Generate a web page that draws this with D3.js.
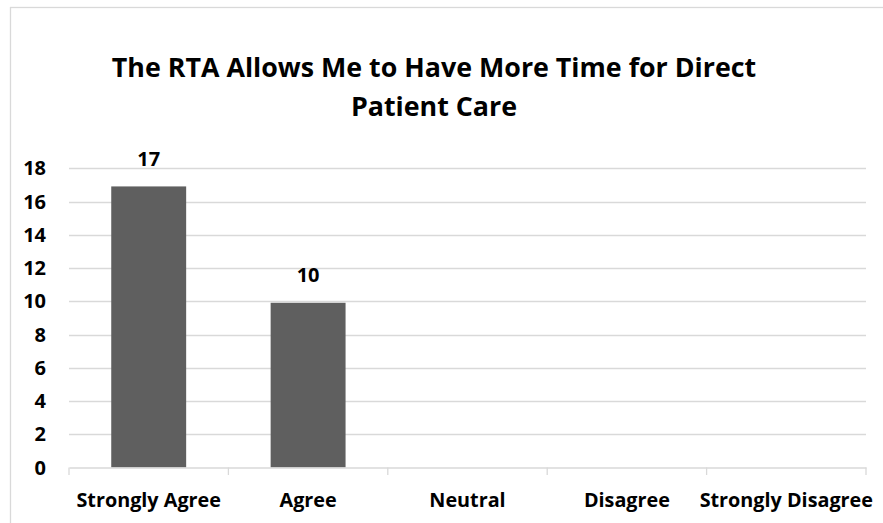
<!DOCTYPE html>
<html><head><meta charset="utf-8">
<script src="https://cdn.jsdelivr.net/npm/d3@7"></script>
<style>html,body{margin:0;padding:0;background:#fff;overflow:hidden}</style>
</head><body>
<svg id="chart" width="883" height="523"></svg>
<script>
const categories = ["Strongly Agree", "Agree", "Neutral", "Disagree", "Strongly Disagree"];
const values = [17, 10, null, null, null];
const yTicks = [0, 2, 4, 6, 8, 10, 12, 14, 16, 18];
const titleLines = ["The RTA Allows Me to Have More Time for Direct", "Patient Care"];

const svg = d3.select("#chart");
const font = "'Open Sans', sans-serif";

svg.append("rect").attr("x", 10.5).attr("y", 7.5).attr("width", 900).attr("height", 600)
  .attr("fill", "#fff").attr("stroke", "#d9d9d9").attr("stroke-width", 1.3);

const x = d3.scaleBand().domain(categories).range([69, 866]).paddingInner(0.53).paddingOuter(0.265);
const xb = d3.scaleBand().domain(categories).range([69, 866]);
const y = d3.scaleLinear().domain([0, 18]).range([467.5, 168.3]);

// gridlines
svg.append("g").selectAll("line").data(yTicks.filter(d => d > 0)).join("line")
  .attr("x1", 69).attr("x2", 866)
  .attr("y1", d => Math.round(y(d)) + 0.5).attr("y2", d => Math.round(y(d)) + 0.5)
  .attr("stroke", "#d9d9d9").attr("stroke-width", 1.3);

// y labels
svg.append("g").selectAll("text").data(yTicks).join("text")
  .attr("x", 46).attr("y", d => y(d) + 7)
  .attr("text-anchor", "end")
  .attr("font-family", font).attr("font-weight", "bold").attr("font-size", 20)
  .attr("fill", "#000").text(d => d);

const barData = categories.map((c, i) => ({c, v: values[i]})).filter(d => d.v != null);

// bars
svg.append("g").selectAll("rect").data(barData).join("rect")
  .attr("x", d => x(d.c)).attr("width", x.bandwidth())
  .attr("y", d => y(d.v) + 1.5).attr("height", d => y(0) - y(d.v) - 1.5)
  .attr("fill", "#5f5f5f");

// value labels
svg.append("g").selectAll("text").data(barData).join("text")
  .attr("x", d => x(d.c) + x.bandwidth() / 2).attr("y", d => y(d.v) - 19)
  .attr("text-anchor", "middle")
  .attr("font-family", font).attr("font-weight", "bold").attr("font-size", 20)
  .attr("fill", "#000").text(d => d.v);

// x axis
const xAxis = d3.axisBottom(xb).tickSize(0).tickFormat("");
const gx = svg.append("g").attr("transform", "translate(0,467.5)").call(xAxis);
gx.select(".domain").attr("stroke", "#d9d9d9").attr("stroke-width", 1.3);
gx.selectAll(".tick").remove();
gx.selectAll("line.sep").data(d3.range(categories.length + 1)).join("line")
  .attr("class", "sep")
  .attr("x1", i => 69 + i * xb.bandwidth()).attr("x2", i => 69 + i * xb.bandwidth())
  .attr("y1", 0).attr("y2", 7.5)
  .attr("stroke", "#d9d9d9").attr("stroke-width", 1.3);

svg.append("g").selectAll("text").data(categories).join("text")
  .attr("x", d => xb(d) + xb.bandwidth() / 2).attr("y", 506.7)
  .attr("text-anchor", "middle")
  .attr("font-family", font).attr("font-weight", "bold").attr("font-size", 19.8)
  .attr("fill", "#000").text(d => d);

// title
svg.append("g").selectAll("text").data(titleLines).join("text")
  .attr("x", 434).attr("y", (d, i) => 76.7 + i * 39.3)
  .attr("text-anchor", "middle")
  .attr("font-family", font).attr("font-weight", "bold").attr("font-size", 26.8)
  .attr("fill", "#000").text(d => d);
</script>
</body></html>
